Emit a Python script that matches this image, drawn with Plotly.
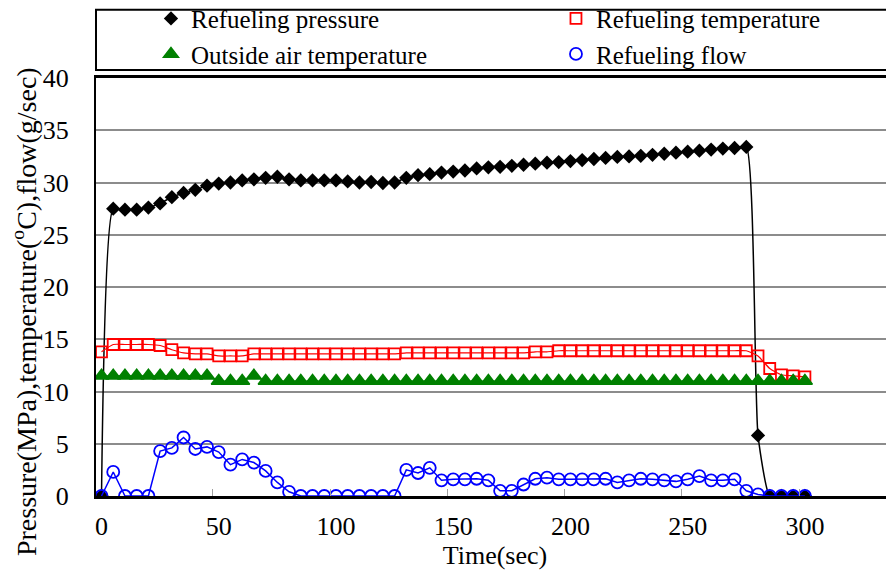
import plotly.graph_objects as go

# ---------------- data ----------------
time_sec = [0, 5, 10, 15, 20, 25, 30, 35, 40, 45, 50, 55, 60, 65, 70, 75, 80, 85, 90, 95,
            100, 105, 110, 115, 120, 125, 130, 135, 140, 145, 150, 155, 160, 165, 170, 175,
            180, 185, 190, 195, 200, 205, 210, 215, 220, 225, 230, 235, 240, 245, 250, 255,
            260, 265, 270, 275, 280, 285, 290, 295, 300]

refuel_pressure = [0.0, 27.5, 27.4, 27.4, 27.6, 28.0, 28.6, 29.0, 29.3, 29.7, 29.9, 30.0, 30.2,
                   30.3, 30.45, 30.55, 30.3, 30.2, 30.2, 30.2, 30.2, 30.1, 30.0, 30.05, 29.95,
                   30.0, 30.45, 30.7, 30.8, 30.95, 31.05, 31.15, 31.35, 31.45, 31.5, 31.6, 31.7,
                   31.8, 31.9, 31.95, 32.05, 32.15, 32.25, 32.35, 32.45, 32.5, 32.55, 32.65,
                   32.75, 32.85, 32.95, 33.05, 33.15, 33.25, 33.3, 33.4, 5.8, 0.0, 0.0, 0.0, 0.0]

refuel_temperature = [13.8, 14.5, 14.5, 14.5, 14.5, 14.4, 14.0, 13.7, 13.6, 13.6, 13.4, 13.4,
                      13.4, 13.6, 13.6, 13.6, 13.6, 13.6, 13.6, 13.6, 13.6, 13.6, 13.6, 13.6,
                      13.6, 13.6, 13.7, 13.7, 13.7, 13.7, 13.7, 13.7, 13.7, 13.7, 13.7, 13.7,
                      13.7, 13.8, 13.8, 13.9, 13.9, 13.9, 13.9, 13.9, 13.9, 13.9, 13.9, 13.9,
                      13.9, 13.9, 13.9, 13.9, 13.9, 13.9, 13.9, 13.9, 13.4, 12.2, 11.6, 11.5, 11.4]

outside_air_temperature = [11.5, 11.5, 11.5, 11.5, 11.5, 11.5, 11.5, 11.5, 11.5, 11.5, 11.0,
                           11.0, 11.0, 11.5, 11.0, 11.0, 11.0, 11.0, 11.0, 11.0, 11.0, 11.0,
                           11.0, 11.0, 11.0, 11.0, 11.0, 11.0, 11.0, 11.0, 11.0, 11.0, 11.0,
                           11.0, 11.0, 11.0, 11.0, 11.0, 11.0, 11.0, 11.0, 11.0, 11.0, 11.0,
                           11.0, 11.0, 11.0, 11.0, 11.0, 11.0, 11.0, 11.0, 11.0, 11.0, 11.0,
                           11.0, 11.0, 11.0, 11.0, 11.0, 11.0]

refuel_flow = [0.0, 2.3, 0.0, 0.0, 0.0, 4.3, 4.6, 5.6, 4.5, 4.7, 4.2, 3.0, 3.5, 3.2, 2.4, 1.3,
               0.4, 0.0, 0.0, 0.0, 0.0, 0.0, 0.0, 0.0, 0.0, 0.0, 2.5, 2.2, 2.7, 1.5, 1.6, 1.6,
               1.65, 1.5, 0.5, 0.5, 1.1, 1.65, 1.75, 1.6, 1.6, 1.6, 1.6, 1.65, 1.3, 1.5, 1.65,
               1.6, 1.5, 1.4, 1.6, 1.9, 1.5, 1.5, 1.6, 0.5, 0.15, 0.0, 0.0, 0.0, 0.0]

x_tick_labels = [0, 50, 100, 150, 200, 250, 300]
x_tick_marks = [47.5, 97.5, 147.5, 197.5, 247.5, 297.5]
y_ticks = [0, 5, 10, 15, 20, 25, 30, 35, 40]

# ---------------- styles ----------------
FONT = "Liberation Serif"
GRID = "#8c8c8c"

series = [
    dict(name="Refueling pressure", y=refuel_pressure, legend="legend",
         line=dict(color="black", width=1.5, shape="spline", smoothing=0.5),
         marker=dict(symbol="diamond", size=11, color="black")),
    dict(name="Refueling temperature", y=refuel_temperature, legend="legend2",
         line=dict(color="#ff0000", width=1.2, shape="spline", smoothing=0.5),
         marker=dict(symbol="square-open", size=11, color="#ff0000", line=dict(width=1.8))),
    dict(name="Outside air temperature", y=outside_air_temperature, legend="legend",
         line=dict(color="#008000", width=1.2),
         marker=dict(symbol="triangle-up", size=13, color="#008000",
                     line=dict(color="#008000", width=1.5))),
    dict(name="Refueling flow", y=refuel_flow, legend="legend2",
         line=dict(color="#0000ff", width=1.5),
         marker=dict(symbol="circle-open", size=12, color="#0000ff", line=dict(width=1.8))),
]

fig = go.Figure()
# data traces
for s in series:
    fig.add_trace(go.Scatter(x=time_sec, y=s["y"], name=s["name"], mode="lines+markers",
                             line=s["line"], marker=s["marker"], showlegend=False))
# legend entries (marker only, as in the reference legend)
for s in series:
    fig.add_trace(go.Scatter(x=[None], y=[None], name=s["name"], mode="markers",
                             marker=s["marker"], legend=s["legend"], showlegend=True))

legend_common = dict(orientation="v", xanchor="left", yanchor="top", y=1.197,
                     font=dict(family=FONT, size=25, color="black"),
                     bgcolor="rgba(0,0,0,0)", borderwidth=0, traceorder="normal",
                     itemclick=False, itemdoubleclick=False)

fig.update_layout(
    width=886, height=564,
    margin=dict(l=88, r=0, t=70, b=76, autoexpand=False),
    plot_bgcolor="white", paper_bgcolor="white",
    font=dict(family=FONT, size=26, color="black"),
    showlegend=True,
    legend=dict(x=0.0689, **legend_common),
    legend2=dict(x=0.5764, **legend_common),
    shapes=[dict(type="rect", xref="paper", yref="paper", x0=0, x1=1.05,
                 y0=1.019, y1=1.163, line=dict(color="black", width=2),
                 fillcolor="rgba(0,0,0,0)")],
    annotations=[dict(text="Pressure(MPa),temperature(<sup>o</sup>C),flow(g/sec)",
                      xref="paper", yref="paper", x=0, y=0.44, xanchor="center",
                      yanchor="middle", xshift=-72, textangle=-90, showarrow=False,
                      font=dict(family=FONT, size=28, color="black"))],
)

fig.update_xaxes(
    range=[-2.35, 338], tickmode="array", tickvals=x_tick_labels,
    ticks="", ticklabelstandoff=5,
    showgrid=False, zeroline=False,
    showline=True, linecolor="black", linewidth=2.5, mirror=True,
    minor=dict(tickmode="array", tickvals=x_tick_marks, ticks="inside",
               ticklen=7, tickwidth=1, tickcolor="#a0a0a0", showgrid=False),
    title=dict(text="Time(sec)", standoff=1, font=dict(family=FONT, size=26)),
    tickfont=dict(family=FONT, size=26),
)
fig.update_yaxes(
    range=[0, 40], tickmode="array", tickvals=y_ticks,
    ticks="outside", ticklen=20, tickcolor="rgba(0,0,0,0)",
    showgrid=True, gridcolor=GRID, gridwidth=2, zeroline=False,
    showline=True, linecolor="black", linewidth=2,
    tickfont=dict(family=FONT, size=26),
)

fig.write_html("out.html")
